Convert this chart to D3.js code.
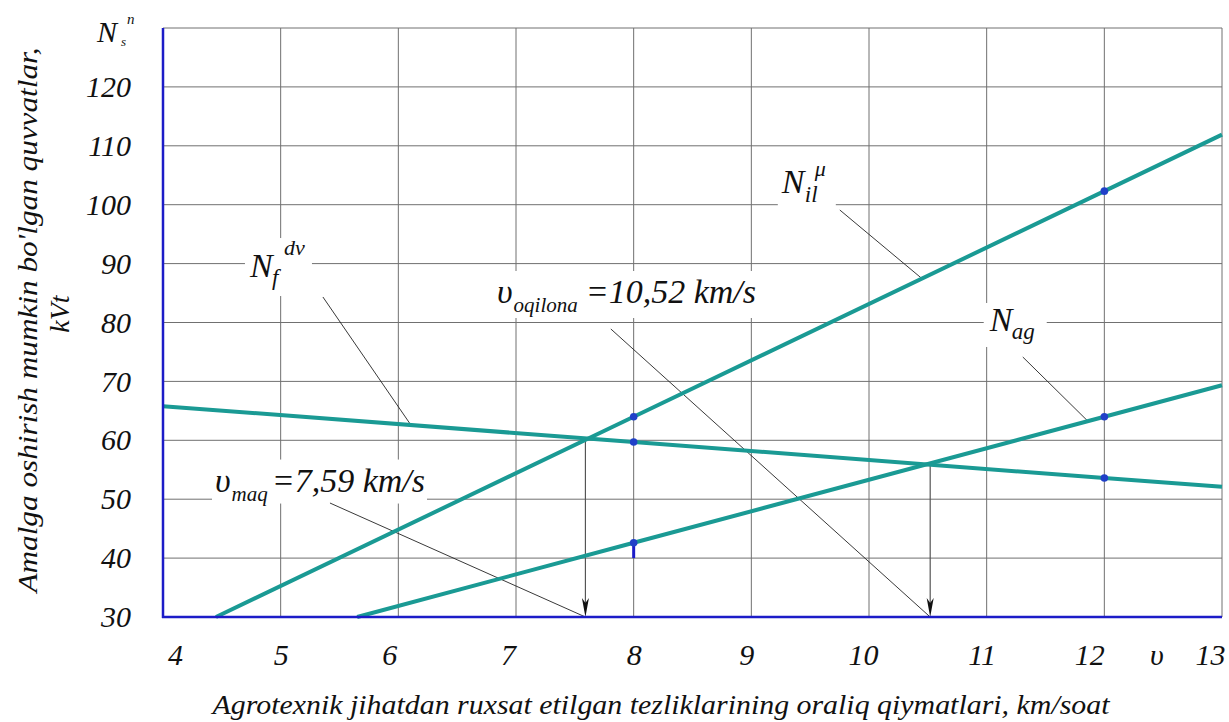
<!DOCTYPE html>
<html><head><meta charset="utf-8">
<script src="https://cdn.jsdelivr.net/npm/d3@7/dist/d3.min.js"></script>
<style>html,body{margin:0;padding:0;background:#fff}svg{display:block}
text{font-family:"Liberation Serif","DejaVu Serif","Noto Serif","Times New Roman",Times,"Liberation Sans",serif;font-style:italic}</style>
</head><body>
<svg id="c" width="1229" height="722"></svg>
<script>
// ---- data ----
const xTickValues = [4,5,6,7,8,9,10,11,12,13];
const yTickValues = [30,40,50,60,70,80,90,100,110,120];
const nilSpeeds = [4.45, 8, 12, 13];
const nilPower  = [30, 64, 102.3, 111.9];
const nagSpeeds = [5.65, 8, 12, 13];
const nagPower  = [30, 42.6, 64.0, 69.35];
const nfSpeeds  = [4, 8, 12, 13];
const nfPower   = [65.8, 59.7, 53.6, 52.1];
const markSpeeds = [8, 8, 8, 12, 12, 12];
const markPower  = [64, 59.7, 42.6, 102.3, 64.0, 53.6];
const arrowSpeeds = [7.59, 10.52];
const xTitle = "Agrotexnik jihatdan ruxsat etilgan tezliklarining oraliq  qiymatlari, km/soat";
const yTitle1 = "Amalga oshirish mumkin bo'lgan quvvatlar,";
const yTitle2 = "kVt";

// ---- setup ----
const W = 1229, H = 722;
const svg = d3.select("#c");
const TEAL = "#1a9a94", BLUE = "#1c1cc8", GRID = "#707070";
const x = d3.scaleLinear().domain([4, 13]).range([163, 1222]);
const y = d3.scaleLinear().domain([30, 130]).range([617, 28]);

svg.append("rect").attr("width", W).attr("height", H).attr("fill", "#fff");

// grid
const g = svg.append("g");
g.selectAll(".vg").data(xTickValues.slice(1)).join("line")
  .attr("x1", d => x(d)).attr("x2", d => x(d)).attr("y1", y(130)).attr("y2", y(30))
  .attr("stroke", GRID).attr("stroke-width", 1);
g.selectAll(".hg").data(yTickValues.slice(1).concat([130])).join("line")
  .attr("x1", x(4)).attr("x2", x(13)).attr("y1", d => y(d)).attr("y2", d => y(d))
  .attr("stroke", GRID).attr("stroke-width", 1);

// interpolators used for annotation anchoring
const nfAt = d3.scaleLinear().domain(nfSpeeds).range(nfPower);
const nilAt = d3.scaleLinear().domain(nilSpeeds).range(nilPower);
const nagAt = d3.scaleLinear().domain(nagSpeeds).range(nagPower);
const line = d3.line().x(d => x(d[0])).y(d => y(d[1]));

const ann = svg.append("g");
function bg(px, py, w, h) {
  ann.append("rect").attr("x", px).attr("y", py).attr("width", w).attr("height", h).attr("fill", "#fff");
}
function txt(px, py, s, size) {
  return ann.append("text").attr("x", px).attr("y", py)
    .attr("font-size", size).attr("fill", "#111").text(s);
}
function leader(v1, p1, v2, p2) {
  ann.append("line").attr("x1", x(v1)).attr("y1", y(p1)).attr("x2", x(v2)).attr("y2", y(p2))
    .attr("stroke", "#222").attr("stroke-width", 0.9);
}

// label anchors in data units
const lf = [x(4.739), y(87.72)];
const lil = [x(9.259), y(101.99)];
const lag = [x(11.026), y(78.56)];
const loq = [x(6.838), y(83.31)];
const lmq = [x(4.442), y(51.3)];

bg(lf[0]-5, lf[1]-39, 67, 58);
bg(lil[0]-4, lil[1]-33, 58, 48);
bg(lag[0]-6, lag[1]-28, 63, 44);
bg(loq[0]-3, loq[1]-32, 285, 47);
bg(lmq[0]-3, lmq[1]-32, 215, 44);

leader(5.359, 84.33, 6.107, nfAt(6.107));
leader(9.752, 99.1, 10.45, nilAt(10.45));
leader(11.307, 74.14, 11.86, nagAt(11.86));
leader(7.806, 78.90, arrowSpeeds[1], 30);
leader(5.419, 49.35, arrowSpeeds[0], 30);

// arrows
arrowSpeeds.forEach(v => {
  const ax = x(v), top = y(nfAt(v)), tip = y(30);
  svg.append("line").attr("x1", ax).attr("x2", ax).attr("y1", top).attr("y2", tip - 6)
    .attr("stroke", "#555").attr("stroke-width", 1.2);
  svg.append("path").attr("d", `M${ax},${tip} L${ax-3.5},${tip-19} L${ax},${tip-14} L${ax+3.5},${tip-19} Z`)
    .attr("fill", "#111");
});

[[nilSpeeds, nilPower], [nagSpeeds, nagPower], [nfSpeeds, nfPower]].forEach(([vs, ps]) => {
  svg.append("path").attr("d", line(vs.map((v, i) => [v, ps[i]])))
    .attr("fill", "none").attr("stroke", TEAL).attr("stroke-width", 4);
});

svg.append("line").attr("x1", x(8)).attr("x2", x(8)).attr("y1", y(nagAt(8))).attr("y2", y(40))
  .attr("stroke", BLUE).attr("stroke-width", 3);

svg.selectAll(".mk").data(markSpeeds.map((v, i) => [v, markPower[i]])).join("circle")
  .attr("cx", d => x(d[0])).attr("cy", d => y(d[1])).attr("r", 3.8)
  .attr("fill", "#2040c8");

// axis lines
svg.append("line").attr("x1", x(4)).attr("x2", x(4)).attr("y1", y(130)).attr("y2", y(30) + 1)
  .attr("stroke", BLUE).attr("stroke-width", 2.5);
svg.append("line").attr("x1", x(4) - 1).attr("x2", x(13)).attr("y1", y(30)).attr("y2", y(30))
  .attr("stroke", BLUE).attr("stroke-width", 2.5);

// ticks
const xNudge = {4: 12, 6: -9, 7: -8, 9: -5, 10: -6, 11: -5, 12: -15, 13: -12};
const xa = svg.append("g").attr("transform", `translate(0,${y(30)})`)
  .call(d3.axisBottom(x).tickValues(xTickValues).tickSize(0).tickPadding(27).tickFormat(d3.format("d")));
xa.select(".domain").remove();
xa.selectAll("text").attr("font-size", 30).attr("fill", "#111").attr("dx", d => xNudge[d] || 0);

const ya = svg.append("g").attr("transform", `translate(${x(4)},0)`)
  .call(d3.axisLeft(y).tickValues(yTickValues).tickSize(0).tickPadding(32).tickFormat(d3.format("d")));
ya.select(".domain").remove();
ya.selectAll("text").attr("font-size", 30).attr("fill", "#111");

txt(97, 42, "N", 30);
txt(121, 46, "s", 13);
txt(127, 24, "n", 15);
txt(1150, 665, "υ", 30);

txt(lf[0], lf[1], "N", 34);
txt(lf[0] + 22, lf[1] + 8, "f", 23);
txt(lf[0] + 34, lf[1] - 22, "dv", 22);
txt(lil[0], lil[1], "N", 34);
txt(lil[0] + 23, lil[1] + 9, "il", 23);
txt(lil[0] + 33, lil[1] - 17, "μ", 22);
txt(lag[0], lag[1], "N", 34);
txt(lag[0] + 22, lag[1] + 8, "ag", 23);
const t1 = txt(loq[0], loq[1], "υ", 34);
t1.append("tspan").attr("font-size", 21).attr("dy", 9).attr("dx", 1).text("oqilona");
t1.append("tspan").attr("font-size", 34).attr("dy", -9).attr("dx", 8).text("=10,52 km/s");
const t2 = txt(lmq[0], lmq[1], "υ", 34);
t2.append("tspan").attr("font-size", 21).attr("dy", 9).attr("dx", 1).text("maq");
t2.append("tspan").attr("font-size", 34).attr("dy", -9).attr("dx", 4).text("=7,59 km/s");

svg.append("text").attr("x", 661).attr("y", 714).attr("text-anchor", "middle")
  .attr("font-size", 27).attr("fill", "#111")
  .attr("textLength", 897).attr("lengthAdjust", "spacingAndGlyphs").text(xTitle);
svg.append("text").attr("transform", "translate(37,320) rotate(-90)").attr("text-anchor", "middle")
  .attr("font-size", 28).attr("fill", "#111")
  .attr("textLength", 545).attr("lengthAdjust", "spacingAndGlyphs").text(yTitle1);
svg.append("text").attr("transform", "translate(69,314) rotate(-90)").attr("text-anchor", "middle")
  .attr("font-size", 28).attr("fill", "#111").text(yTitle2);
</script>
</body></html>
